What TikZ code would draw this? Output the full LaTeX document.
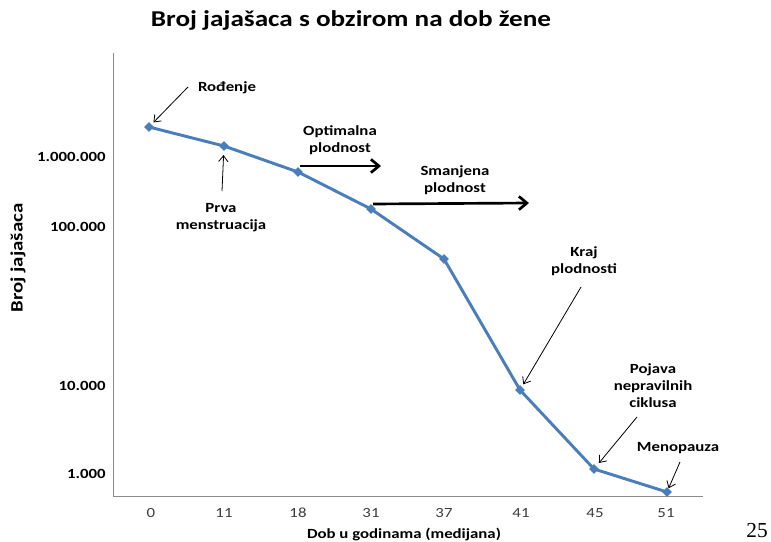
\documentclass[tikz,border=0pt]{standalone}
\usepackage{fontspec}
\setmainfont{Carlito}[FakeStretch=1.2]
\newfontfamily\pagefont{Liberation Serif}
\usetikzlibrary{arrows.meta, positioning, shapes.geometric}
\definecolor{lineblue}{RGB}{74, 126, 187}
\definecolor{axisgray}{RGB}{140, 140, 140}
\definecolor{numgray}{RGB}{60, 60, 60}

\begin{document}
\begin{tikzpicture}[x=0.75pt, y=-0.75pt,
    datapt/.style={diamond, fill=lineblue, inner sep=0pt, minimum size=7.5pt},
    note/.style={font=\bfseries\fontsize{10.5}{12.75}\selectfont, align=center, inner sep=0pt},
    ylab/.style={font=\bfseries\fontsize{10.5}{12.75}\selectfont, anchor=east, inner sep=0pt},
    xlab/.style={font=\fontsize{10.5}{12.75}\selectfont, text=numgray, inner sep=0pt},
    thinarrow/.style={-{Straight Barb[length=4.5pt, width=7pt]}, line width=0.6pt},
    thickarrow/.style={-{Straight Barb[length=6pt, width=10pt]}, line width=2pt}]
    \useasboundingbox (0, 0) rectangle (771, 542);

    % naslov
    \node[font=\bfseries\fontsize{17}{20}\selectfont] (title) at (351, 20) {Broj jajašaca s obzirom na dob žene};

    % osi
    \coordinate (ytop) at (113, 53);
    \coordinate (origin) at (113, 496);
    \coordinate (xend) at (703, 496);
    \draw[axisgray, line width=0.75pt] (ytop) -- (origin) -- (xend);

    \node[ylab] (y6) at (106, 157) {1.000.000};
    \node[ylab] (y5) at (106, 227) {100.000};
    \node[ylab] (y4) at (106, 386) {10.000};
    \node[ylab] (y3) at (106, 474) {1.000};

    \node[xlab] (x0) at (151, 513) {0};
    \node[xlab] (x11) at (224, 513) {11};
    \node[xlab] (x18) at (298, 513) {18};
    \node[xlab] (x31) at (371, 513) {31};
    \node[xlab] (x37) at (444, 513) {37};
    \node[xlab] (x41) at (521, 513) {41};
    \node[xlab] (x45) at (595, 513) {45};
    \node[xlab] (x51) at (666, 513) {51};

    \node[note] (xtitle) at (404, 534) {Dob u godinama (medijana)};
    \node[note, font=\bfseries\fontsize{13}{15}\selectfont, rotate=90] (ytitle) at (18, 258) {Broj jajašaca};

    % podaci
    \node[datapt] (p0) at (149, 127) {};
    \node[datapt] (p11) at (224, 146) {};
    \node[datapt] (p18) at (298, 172) {};
    \node[datapt] (p31) at (371, 209) {};
    \node[datapt] (p37) at (444, 259) {};
    \node[datapt] (p41) at (520, 390) {};
    \node[datapt] (p45) at (594, 469) {};
    \node[datapt] (p51) at (667, 492) {};
    \draw[lineblue, line width=2.2pt, line join=round] (p0.center) -- (p11.center) -- (p18.center) -- (p31.center)
        -- (p37.center) -- (p41.center) -- (p45.center) -- (p51.center);

    % oznake
    \node[note] (rodjenje) at (227, 88) {Rođenje};
    \coordinate (rodjenjestart) at (188, 87);
    \draw[thinarrow, shorten >=2pt] (rodjenjestart) -- (p0);

    \node[note] (prva) at (221, 218) {Prva\\menstruacija};
    \coordinate (prvastart) at (222, 191);
    \draw[thinarrow, shorten >=3pt] (prvastart) -- (p11);

    \node[note] (optimalna) at (340, 140) {Optimalna\\plodnost};
    \coordinate (optstart) at (300, 166);
    \coordinate (optend) at (381, 166);
    \draw[thickarrow] (optstart) -- (optend);

    \node[note] (smanjena) at (455, 180) {Smanjena\\plodnost};
    \coordinate (smanjstart) at (373, 204);
    \coordinate (smanjend) at (529, 203);
    \draw[thickarrow] (smanjstart) -- (smanjend);

    \node[note] (kraj) at (584, 261) {Kraj\\plodnosti};
    \coordinate (krajstart) at (581, 287);
    \draw[thinarrow, shorten >=2pt] (krajstart) -- (p41);

    \node[note] (pojava) at (653, 386) {Pojava\\nepravilnih\\ciklusa};
    \coordinate (pojavastart) at (637, 417);
    \draw[thinarrow, shorten >=3pt] (pojavastart) -- (p45);

    \node[note] (menopauza) at (678, 448) {Menopauza};
    \coordinate (menostart) at (680, 462);
    \draw[thinarrow] (menostart) -- (p51);

    \node[font=\pagefont\fontsize{16}{18}\selectfont, inner sep=0pt] (pagenum) at (757, 531) {25};
\end{tikzpicture}
\end{document}
